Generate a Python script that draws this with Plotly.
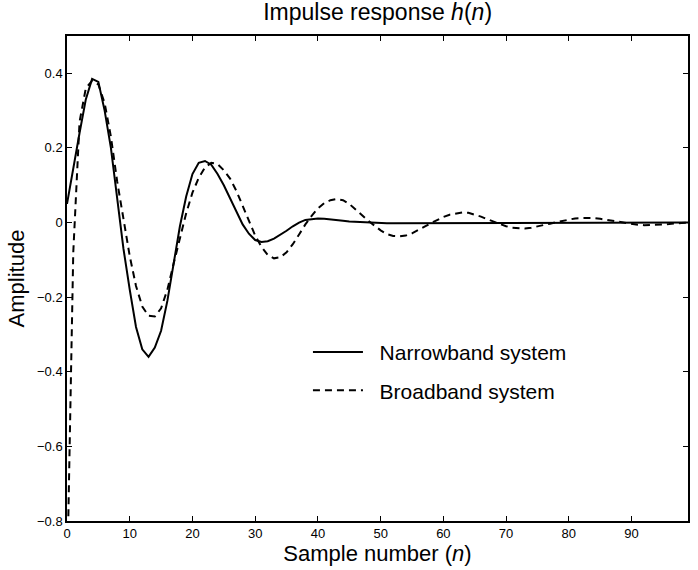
import plotly.graph_objects as go

n = list(range(100))

narrowband = [
    0.05, 0.15, 0.24, 0.33, 0.385, 0.377, 0.30, 0.20, 0.07, -0.07,
    -0.18, -0.28, -0.34, -0.36, -0.335, -0.29, -0.21, -0.11, -0.01, 0.07,
    0.13, 0.16, 0.165, 0.155, 0.13, 0.10, 0.065, 0.03, -0.005, -0.03,
    -0.047, -0.052, -0.05, -0.043, -0.033, -0.022, -0.01, 0.0, 0.007, 0.010,
    0.011, 0.010, 0.009, 0.007, 0.005, 0.003, 0.002, 0.0, -0.001, -0.002,
    -0.002, -0.002, -0.002, -0.002, -0.002, -0.002, -0.002, -0.001, -0.001, -0.001,
    -0.001, 0.0, 0.0, 0.0, 0.0, 0.0, 0.0, 0.0, 0.0, 0.0,
    0.0, 0.0, 0.0, 0.0, 0.0, 0.0, 0.0, 0.0, 0.0, 0.0,
    0.0, 0.0, 0.0, 0.0, 0.0, 0.0, 0.0, 0.0, 0.0, 0.0,
    0.0, 0.0, 0.0, 0.0, 0.0, 0.0, 0.0, 0.0, 0.0, 0.0,
]

broadband = [
    -0.98, -0.08, 0.27, 0.36, 0.38, 0.37, 0.32, 0.23, 0.11, 0.01,
    -0.09, -0.17, -0.225, -0.25, -0.252, -0.23, -0.18, -0.11, -0.04, 0.025,
    0.08, 0.12, 0.148, 0.16, 0.157, 0.14, 0.118, 0.085, 0.045, 0.005,
    -0.035, -0.065, -0.087, -0.096, -0.093, -0.08, -0.058, -0.032, -0.005, 0.018,
    0.038, 0.052, 0.06, 0.063, 0.06, 0.05, 0.036, 0.02, 0.005, -0.009,
    -0.021, -0.031, -0.036, -0.037, -0.035, -0.029, -0.021, -0.011, -0.002, 0.007,
    0.015, 0.021, 0.025, 0.027, 0.026, 0.022, 0.016, 0.009, 0.002, -0.005,
    -0.01, -0.014, -0.016, -0.016, -0.014, -0.011, -0.007, -0.003, 0.001, 0.005,
    0.008, 0.011, 0.012, 0.013, 0.012, 0.01, 0.007, 0.004, 0.001, -0.002,
    -0.004, -0.006, -0.007, -0.007, -0.007, -0.005, -0.004, -0.002, -0.001, 0.0,
]

x_ticks = [0, 10, 20, 30, 40, 50, 60, 70, 80, 90]
y_ticks = [-0.8, -0.6, -0.4, -0.2, 0, 0.2, 0.4]
y_tick_labels = ["\u22120.8", "\u22120.6", "\u22120.4", "\u22120.2", "0", "0.2", "0.4"]

FONT = "Liberation Sans, Arial, Helvetica, sans-serif"

fig = go.Figure()
fig.add_trace(go.Scatter(
    x=n, y=narrowband, mode="lines", name="\u00a0\u00a0Narrowband system",
    line=dict(color="black", width=2), legendgroup="a",
))
fig.add_trace(go.Scatter(
    x=n, y=broadband, mode="lines", name="\u00a0\u00a0Broadband system",
    line=dict(color="black", width=2, dash="7px,5px"), legendgroup="b",
))

axis_common = dict(
    showline=True, linecolor="black", linewidth=1.5, mirror="ticks",
    ticks="inside", ticklen=5, tickwidth=1, tickcolor="black",
    showgrid=False, zeroline=False,
    tickfont=dict(family=FONT, size=13, color="black"),
)

fig.update_layout(
    width=698, height=570,
    paper_bgcolor="white", plot_bgcolor="white",
    margin=dict(l=67, r=8, t=36, b=49),
    title=dict(
        text="Impulse response <i>h</i>(<i>n</i>)",
        x=0.541, xanchor="center", y=0.993, yanchor="top",
        font=dict(family=FONT, size=23, color="black"),
    ),
    xaxis=dict(
        range=[0, 99], tickvals=x_ticks,
        title=dict(text="Sample number (<i>n</i>)", standoff=3,
                   font=dict(family=FONT, size=22, color="black")),
        **axis_common,
    ),
    yaxis=dict(
        range=[-0.8, 0.5], tickvals=y_ticks, ticktext=y_tick_labels,
        title=dict(text="Amplitude", standoff=6,
                   font=dict(family=FONT, size=22, color="black")),
        **axis_common,
    ),
    legend=dict(
        x=0.388, y=0.39, xanchor="left", yanchor="top",
        bgcolor="rgba(0,0,0,0)", borderwidth=0,
        font=dict(family=FONT, size=21, color="black"),
        tracegroupgap=8, itemwidth=50,
    ),
    showlegend=True,
)

fig.write_html("out.html")
